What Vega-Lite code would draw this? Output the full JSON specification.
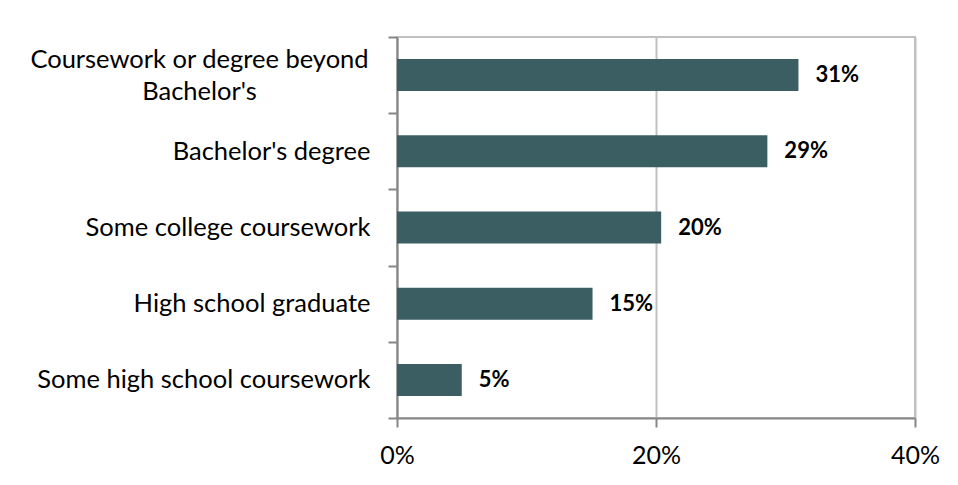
{
  "$schema": "https://vega.github.io/schema/vega-lite/v6.json",
  "width": 518,
  "height": 381,
  "autosize": "none",
  "padding": {"left": 397, "top": 37, "right": 43, "bottom": 67},
  "background": "white",
  "data": {"values": [
    {"level": "Coursework or degree beyond\nBachelor's", "share": 0.31},
    {"level": "Bachelor's degree", "share": 0.286},
    {"level": "Some college coursework", "share": 0.204},
    {"level": "High school graduate", "share": 0.151},
    {"level": "Some high school coursework", "share": 0.05}
  ]},
  "encoding": {
    "y": {
      "field": "level", "type": "nominal", "sort": null,
      "scale": {"paddingInner": 0, "paddingOuter": 0},
      "axis": {
        "title": null,
        "labelExpr": "split(datum.label, '\\n')",
        "labelFont": "Lato", "labelFontSize": 25.5, "labelColor": "#000000",
        "labelLineHeight": 32,
        "labelAlign": {"condition": {"test": "indexof(datum.label, 'beyond') >= 0", "value": "center"}, "value": "right"},
        "labelPadding": {"condition": {"test": "indexof(datum.label, 'beyond') >= 0", "value": 189}, "value": 18},
        "labelOffset": {"condition": {"test": "indexof(datum.label, 'beyond') >= 0", "value": -16}, "value": 0},
        "labelLimit": 0,
        "tickBand": "extent",
        "tickSize": 9, "tickColor": "#868686", "tickWidth": 2,
        "domainColor": "#868686", "domainWidth": 2,
        "grid": false
      }
    },
    "x": {
      "field": "share", "type": "quantitative",
      "scale": {"domain": [0, 0.4], "nice": false},
      "axis": {
        "title": null, "values": [0, 0.2, 0.4], "format": ".0%",
        "labelFont": "Lato", "labelFontSize": 25, "labelColor": "#000000",
        "labelPadding": 16,
        "tickSize": 9, "tickColor": "#868686", "tickWidth": 2,
        "domainColor": "#868686", "domainWidth": 2,
        "grid": true, "gridColor": "#c0c0c0", "gridWidth": 2,
        "labelFlush": false
      }
    }
  },
  "layer": [
    {"mark": {"type": "bar", "color": "#3b5e63", "height": {"band": 0.42}}},
    {
      "mark": {"type": "text", "align": "left", "dx": 17, "font": "Lato", "fontSize": 22, "fontWeight": "bold", "color": "#000000"},
      "encoding": {"text": {"field": "share", "type": "quantitative", "format": ".0%"}}
    }
  ],
  "config": {"view": {"stroke": "#c0c0c0", "strokeWidth": 2}}
}
